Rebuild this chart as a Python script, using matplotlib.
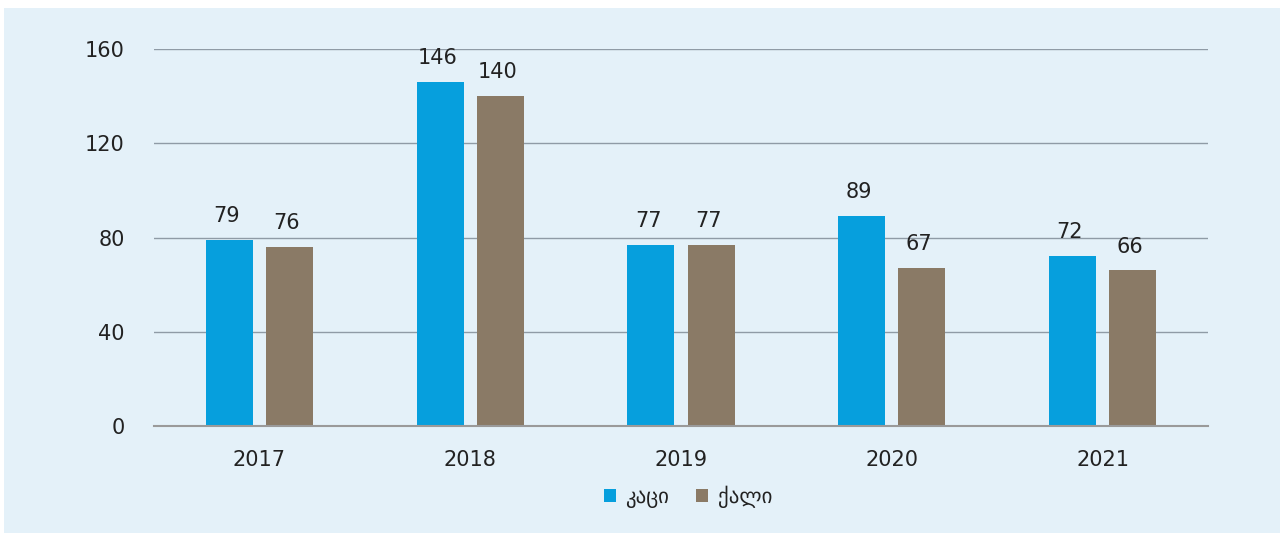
import matplotlib
matplotlib.use("Agg")
import matplotlib.pyplot as plt
import numpy as np
from matplotlib.patches import Rectangle

years = ["2017", "2018", "2019", "2020", "2021"]
men = [79, 146, 77, 89, 72]
women = [76, 140, 77, 67, 66]
series_names = ["კაცი", "ქალი"]
yticks = [0, 40, 80, 120, 160]

blue = "#069FDD"
brown = "#8A7A66"
bg = "#E4F1F9"
grid_c = "#8F9BA6"
txt = "#222222"

plt.rcParams['font.family'] = ['DejaVu Sans']

fig = plt.figure(figsize=(12.86, 5.33), dpi=100)
fig.patch.set_facecolor("white")
fig.patches.append(Rectangle((4/1286, 0), 1276/1286, 1 - 8/533, transform=fig.transFigure,
                             facecolor=bg, edgecolor="none", zorder=-10))

ax = fig.add_axes([154/1286, 1 - 426/533, (1208 - 154)/1286, (426 - 49)/533])
ax.set_facecolor("none")

x = np.arange(len(years))
w = 0.223
off = 0.1425
b1 = ax.bar(x - off, men, w, color=blue, label=series_names[0], zorder=3)
b2 = ax.bar(x + off, women, w, color=brown, label=series_names[1], zorder=3)

for bars, vals in ((b1, men), (b2, women)):
    for r, v in zip(bars, vals):
        ax.annotate(str(v), (r.get_x() + r.get_width() / 2, v), xytext=(-2, 10),
                    textcoords="offset points", ha="center", va="bottom",
                    fontsize=15, color=txt)

ax.set_xlim(-0.5, len(years) - 0.5)
ax.set_ylim(0, 160)
ax.set_yticks(yticks)
ax.set_yticklabels([str(t) for t in yticks])
ax.set_xticks(x)
ax.set_xticklabels(years)
ax.tick_params(axis="y", length=0, pad=21, labelsize=15, labelcolor=txt)
ax.tick_params(axis="x", length=0, pad=17, labelsize=15, labelcolor=txt)
ax.grid(axis="y", color=grid_c, linewidth=1, zorder=1)
for s in ["top", "right", "left"]:
    ax.spines[s].set_visible(False)
ax.spines["bottom"].set_color("#9A9A9A")
ax.spines["bottom"].set_linewidth(1.5)
ax.spines["bottom"].set_zorder(4)

leg = fig.legend(loc="center", bbox_to_anchor=(688/1286, 1 - 497/533), ncol=2,
                 frameon=False, fontsize=15, handlelength=0.58, handleheight=0.58,
                 handletextpad=0.45, columnspacing=1.3)
for t in leg.get_texts():
    t.set_color(txt)

fig.savefig("out.png", dpi=100, facecolor="white")
